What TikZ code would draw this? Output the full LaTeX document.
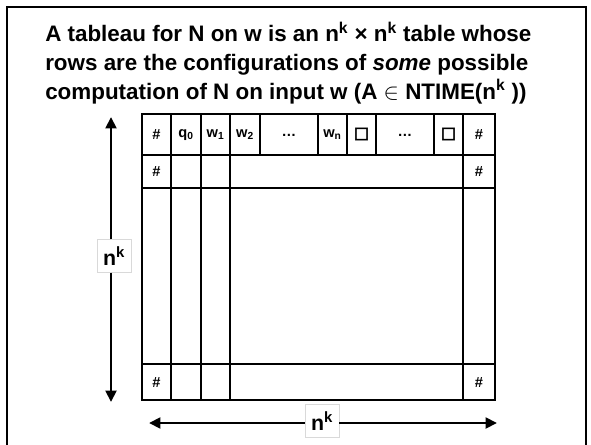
\documentclass[tikz,border=0pt]{standalone}
\usepackage{fontspec}
\setmainfont{Liberation Sans}
\newfontfamily\blankfont[FakeBold=3]{DejaVu Sans}
\usetikzlibrary{arrows.meta}

\begin{document}
\begin{tikzpicture}[x=0.75pt, y=-0.75pt,
        grid/.style={line width=2.2pt},
        cell/.style={inner sep=0pt, font=\bfseries\fontsize{11}{12}\selectfont},
        blank/.style={inner sep=0pt, font=\blankfont\fontsize{12}{12}\selectfont},
        span/.style={line width=2.2pt, -{Triangle[length=8.5pt,width=8pt]}},
        size/.style={draw=black!15, line width=0.4pt, fill=white, inner sep=1pt,
            minimum width=25.5pt, minimum height=24.5pt, font=\bfseries\fontsize{16}{18}\selectfont}]
        \useasboundingbox (0,0) rectangle (591,445);
        \draw[line width=1.5pt] (7,445) -- (7,7) -- (586,7) -- (586,445);

        \node[anchor=north west, align=left, inner sep=0pt,
            font=\bfseries\fontsize{16.8}{21.5}\selectfont] (title) at (45,22)
            {A tableau for N on w is an n\textsuperscript{k} × n\textsuperscript{k} table whose\\
             rows are the configurations of \textit{some} possible\\
             computation of N on input w (A $\in$ NTIME(n\textsuperscript{k} ))};

        % the table
        \draw[grid] (142,114) rectangle (495,400);
        \foreach \y in {155,188,364}
            \draw[grid] (142,\y) -- (495,\y);
        \foreach \x in {171,201,230,463}
            \draw[grid] (\x,114) -- (\x,400);
        \foreach \x in {260,318,347,376,434}
            \draw[grid] (\x,114) -- (\x,155);

        % first row: start configuration
        \node[cell] (c1) at (156.5,135) {\#};
        \node[cell] (c2) at (186,135) {q\textsubscript{0}};
        \node[cell] (c3) at (215.5,135) {w\textsubscript{1}};
        \node[cell] (c4) at (245,135) {w\textsubscript{2}};
        \node[cell] (c5) at (289,135) {\dots};
        \node[cell] (c6) at (332.5,135) {w\textsubscript{n}};
        \node[blank] (c7) at (361.5,134) {□};
        \node[cell] (c8) at (405,135) {\dots};
        \node[blank] (c9) at (448.5,134) {□};
        \node[cell] (c10) at (479,135) {\#};
        % border symbols of the other rows
        \node[cell] (r2l) at (156.5,171.5) {\#};
        \node[cell] (r2r) at (479,171.5) {\#};
        \node[cell] (rkl) at (156.5,382) {\#};
        \node[cell] (rkr) at (479,382) {\#};

        % size arrows
        \coordinate (vtop) at (111,117);
        \coordinate (vbot) at (111,402);
        \node[size] (vlab) at (114,256) {n\textsuperscript{k}};
        \draw[span] (vlab.north -| vtop) -- (vtop);
        \draw[span] (vlab.south -| vbot) -- (vbot);

        \coordinate (hleft) at (149,423);
        \coordinate (hright) at (497,423);
        \node[size] (hlab) at (322,421) {n\textsuperscript{k}};
        \draw[span] (hlab.west |- hleft) -- (hleft);
        \draw[span] (hlab.east |- hright) -- (hright);
\end{tikzpicture}
\end{document}
